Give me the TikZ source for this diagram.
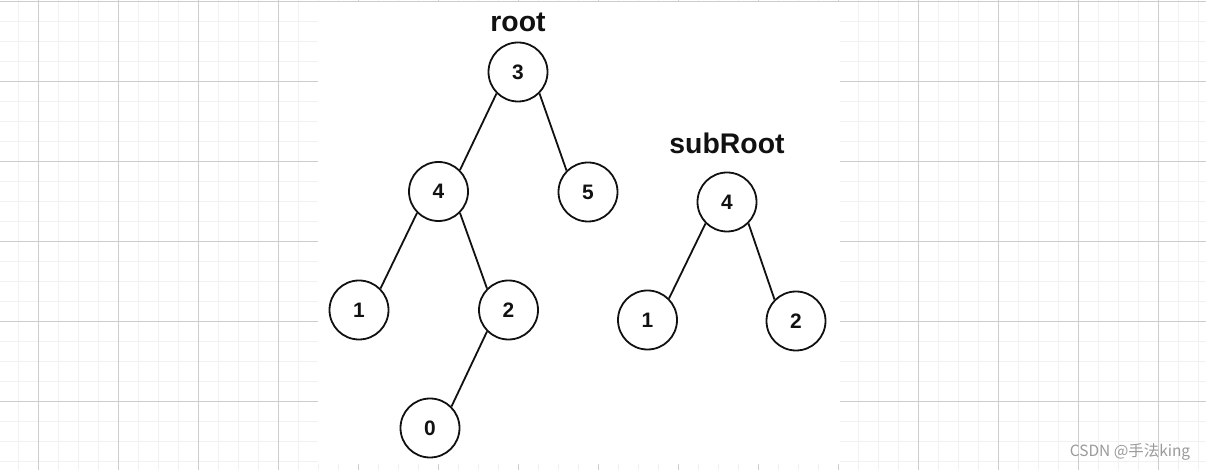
\documentclass[tikz,border=0pt]{standalone}
\usepackage{fontspec}
\setmainfont{Liberation Sans}
\newfontfamily\cjkfont{Noto Sans CJK SC}
\definecolor{minorgrid}{HTML}{F1F1F1}
\definecolor{majorgrid}{HTML}{CDCDCD}
\definecolor{ink}{HTML}{111111}
\definecolor{wmark}{HTML}{9A9A9A}
\begin{document}
\begin{tikzpicture}[x=1bp,y=-1bp,
  treenode/.style={circle,draw=ink,line width=1.8bp,minimum size=59bp,inner sep=0pt,
    font=\fontsize{21}{21}\selectfont\bfseries,text=ink},
  edge/.style={draw=ink,line width=1.8bp},
  title/.style={font=\fontsize{28.5}{28.5}\selectfont\bfseries,text=ink}]
\useasboundingbox (0,0) rectangle (1206,470);
\fill[white] (0,0) rectangle (1206,470);
% grid
\foreach \x in {18,38,...,1206} \draw[minorgrid,line width=1bp] (\x,0) -- (\x,470);
\foreach \y in {2,22,...,470} \draw[minorgrid,line width=1bp] (0,\y) -- (1206,\y);
\foreach \x in {38,118,...,1206} \draw[majorgrid,line width=1bp] (\x,0) -- (\x,470);
\foreach \y in {2,82,...,470} \draw[majorgrid,line width=1bp] (0,\y) -- (1206,\y);
% white canvas
\fill[white] (318,2) rectangle (840,464);
% main tree
\node[title] (root) at (518,22) {root};
\node[treenode] (n3) at (518,72) {3};
\node[treenode] (n4) at (438.5,191.5) {4};
\node[treenode] (n5) at (588,192) {5};
\node[treenode] (n1) at (359,310) {1};
\node[treenode] (n2) at (508.5,310) {2};
\node[treenode] (n0) at (430,428) {0};
\draw[edge] (n3.south west) -- (n4.north east);
\draw[edge] (n3.south east) -- (n5.north west);
\draw[edge] (n4.south west) -- (n1.north east);
\draw[edge] (n4.south east) -- (n2.north west);
\draw[edge] (n2.south west) -- (n0.north east);
% subtree
\node[title] (subroot) at (727,143) {subRoot};
\node[treenode] (s4) at (727,202) {4};
\node[treenode] (s1) at (647.5,320) {1};
\node[treenode] (s2) at (796,321) {2};
\draw[edge] (s4.south west) -- (s1.north east);
\draw[edge] (s4.south east) -- (s2.north west);
% watermark
\node[font=\cjkfont\fontsize{15.5}{15.5}\selectfont,text=wmark] (wm) at (1130,452) {CSDN @手法king};
\end{tikzpicture}
\end{document}
